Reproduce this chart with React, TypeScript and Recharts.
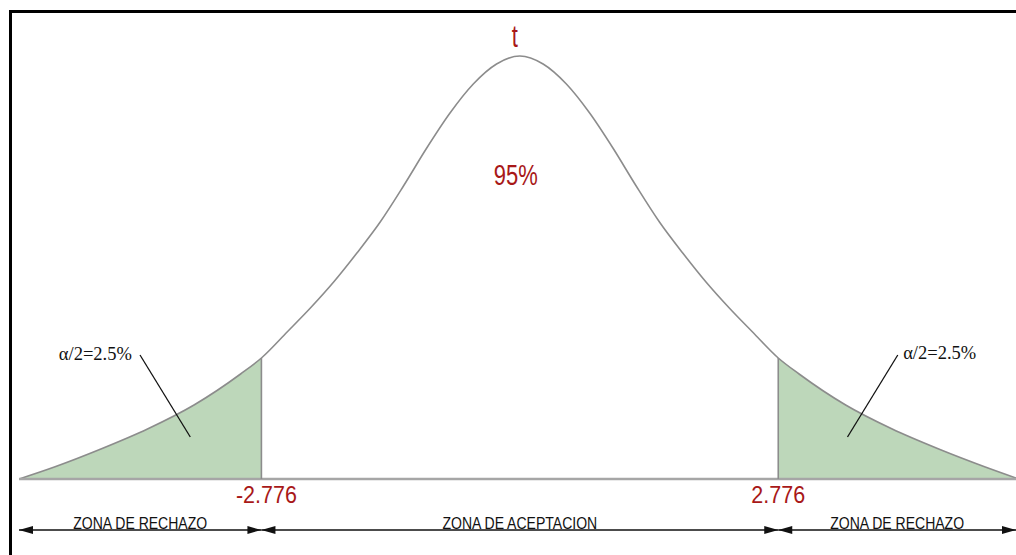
import React from 'react';
import { ComposedChart, Area, XAxis, YAxis, ReferenceLine, ReferenceDot } from 'recharts';

// t values along the curve and the drawn curve height
const T_VALUES = [-5.38, -5, -4.5, -4, -3.5, -3, -2.776, -2.5, -2.25, -2, -1.75, -1.5, -1.25, -1, -0.75, -0.5, -0.25, 0,
  0.25, 0.5, 0.75, 1, 1.25, 1.5, 1.75, 2, 2.25, 2.5, 2.776, 3, 3.5, 4, 4.5, 5, 5.33];
const DENSITY = [0, 0.012, 0.03, 0.05, 0.074, 0.105, 0.121, 0.147, 0.171, 0.197, 0.226, 0.257, 0.293, 0.331, 0.366, 0.395, 0.415, 0.423,
  0.415, 0.395, 0.366, 0.331, 0.293, 0.257, 0.226, 0.197, 0.171, 0.147, 0.121, 0.105, 0.074, 0.05, 0.03, 0.012, 0.001];

const CRITICAL = 2.776;
const CRIT_LABELS = ['-2.776', '2.776'];
const ZONES = [
  { from: -5.38, to: -CRITICAL, label: 'ZONA DE RECHAZO' },
  { from: -CRITICAL, to: CRITICAL, label: 'ZONA DE ACEPTACION' },
  { from: CRITICAL, to: 5.33, label: 'ZONA DE RECHAZO' },
];
const ALPHA_LABEL = 'α/2=2.5%';
const CENTER_LABEL = '95%';
const TITLE = 't';

const RED = '#a81818';
const GREEN = '#bdd7ba';
const CURVE = '#8c8c8c';

const data = T_VALUES.map((t, i) => ({
  t,
  y: DENSITY[i],
  left: t <= -CRITICAL ? DENSITY[i] : null,
  right: t >= CRITICAL ? DENSITY[i] : null,
}));

const critHeight = DENSITY[T_VALUES.indexOf(CRITICAL)];

const scaledLabel = (text: string, opts: any) => (props: any) => {
  const vb = props.viewBox || {};
  const cx = (vb.x || 0) + (vb.width || 0) / 2 + (opts.dx || 0);
  const cy = (vb.y || 0) + (vb.height || 0) / 2 + (opts.dy || 0);
  return (
    <text
      transform={`translate(${cx},${cy}) scale(${opts.sx || 1},${opts.sy || 1})`}
      textAnchor="middle"
      dominantBaseline="central"
      fill={opts.fill}
      fontSize={opts.size}
      fontFamily={opts.font}
    >
      {text}
    </text>
  );
};

const ZoneArrow = (label: string) => (props: any) => {
  const { x1, x2, y1 } = props;
  const y = y1;
  const mid = (x1 + x2) / 2;
  return (
    <g>
      <line x1={x1} y1={y} x2={x2} y2={y} stroke="#111" strokeWidth={1.5} />
      <polygon points={`${x1},${y} ${x1 + 14},${y - 4} ${x1 + 14},${y + 4}`} fill="#111" />
      <polygon points={`${x2},${y} ${x2 - 14},${y - 4} ${x2 - 14},${y + 4}`} fill="#111" />
      <text
        transform={`translate(${mid},${y - 1}) scale(0.85,1)`}
        textAnchor="middle"
        fontSize={16.5}
        fontFamily="'Liberation Sans', Arial, sans-serif"
        fill="#111"
      >
        {label}
      </text>
    </g>
  );
};

export default function App() {
  return (
    <div style={{ position: 'absolute', left: 0, top: 0, width: 1016, height: 555, background: '#fff', overflow: 'hidden' }}>
      <div
        style={{
          position: 'absolute',
          left: 9,
          top: 10,
          width: 1010,
          height: 548,
          borderTop: '3px solid #000',
          borderLeft: '3px solid #000',
        }}
      />
      <div style={{ position: 'absolute', left: 0, top: 0 }}>
        <ComposedChart width={1016} height={555} data={data} margin={{ top: 29, right: 0, bottom: 0, left: 19 }}>
          <XAxis dataKey="t" type="number" domain={[-5.38, 5.33]} hide allowDataOverflow />
          <YAxis type="number" domain={[-0.076, 0.45]} hide allowDataOverflow />
          <Area type="monotone" dataKey="left" stroke="none" fill={GREEN} fillOpacity={1} isAnimationActive={false} connectNulls={false} />
          <Area type="monotone" dataKey="right" stroke="none" fill={GREEN} fillOpacity={1} isAnimationActive={false} connectNulls={false} />
          <Area type="monotone" dataKey="y" stroke={CURVE} strokeWidth={1.6} fill="none" isAnimationActive={false} />
          <ReferenceLine y={0} stroke="#a6a6a6" strokeWidth={2.5} />
          <ReferenceLine segment={[{ x: -CRITICAL, y: 0 }, { x: -CRITICAL, y: critHeight }]} stroke={CURVE} strokeWidth={1.6} />
          <ReferenceLine segment={[{ x: CRITICAL, y: 0 }, { x: CRITICAL, y: critHeight }]} stroke={CURVE} strokeWidth={1.6} />
          {/* leader lines for the tail labels */}
          <ReferenceLine segment={[{ x: -4.08, y: 0.124 }, { x: -3.54, y: 0.042 }]} stroke="#111" strokeWidth={1.3} />
          <ReferenceLine segment={[{ x: 4.06, y: 0.124 }, { x: 3.52, y: 0.042 }]} stroke="#111" strokeWidth={1.3} />
          {ZONES.map((z, i) => (
            <ReferenceLine
              key={i}
              segment={[{ x: z.from, y: -0.051 }, { x: z.to, y: -0.051 }]}
              shape={ZoneArrow(z.label)}
            />
          ))}
          <ReferenceDot x={0} y={0.442} r={1} fill="none" stroke="none"
            label={{ content: scaledLabel(TITLE, { fill: RED, size: 22, sy: 1.4, dx: -5, font: "'Liberation Sans', Arial, sans-serif" }) }} />
          <ReferenceDot x={0} y={0.304} r={1} fill="none" stroke="none"
            label={{ content: scaledLabel(CENTER_LABEL, { fill: RED, size: 22, sy: 1.35, dx: -4, font: "'Liberation Sans', Arial, sans-serif" }) }} />
          <ReferenceDot x={-CRITICAL} y={-0.016} r={1} fill="none" stroke="none"
            label={{ content: scaledLabel(CRIT_LABELS[0], { fill: RED, size: 21.5, sy: 1.12, dx: 5, font: "'Liberation Sans', Arial, sans-serif" }) }} />
          <ReferenceDot x={CRITICAL} y={-0.016} r={1} fill="none" stroke="none"
            label={{ content: scaledLabel(CRIT_LABELS[1], { fill: RED, size: 21.5, sy: 1.12, font: "'Liberation Sans', Arial, sans-serif" }) }} />
          <ReferenceDot x={-4.56} y={0.125} r={1} fill="none" stroke="none"
            label={{ content: scaledLabel(ALPHA_LABEL, { fill: '#111', size: 18.5, font: "'Liberation Serif', 'Times New Roman', serif" }) }} />
          <ReferenceDot x={4.51} y={0.126} r={1} fill="none" stroke="none"
            label={{ content: scaledLabel(ALPHA_LABEL, { fill: '#111', size: 18.5, font: "'Liberation Serif', 'Times New Roman', serif" }) }} />
        </ComposedChart>
      </div>
    </div>
  );
}
